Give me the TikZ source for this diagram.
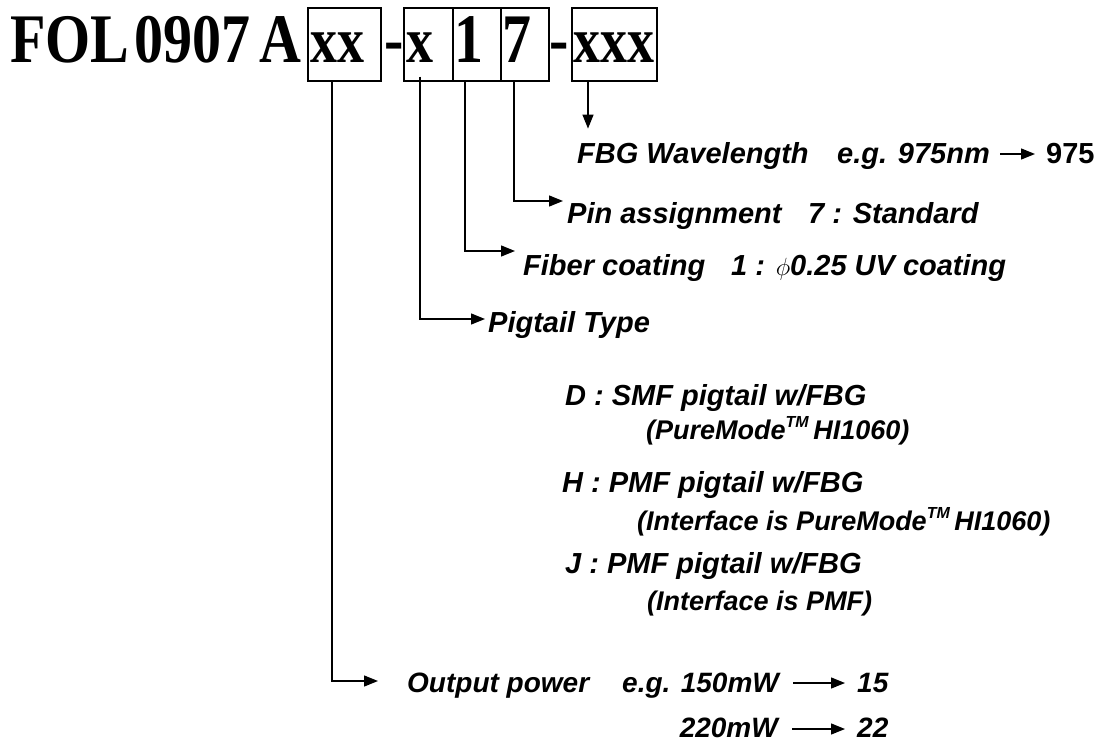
\documentclass[tikz,border=0pt]{standalone}
\usepackage{fontspec}
\setmainfont{Liberation Sans}
\newfontfamily\codefont{Liberation Serif}
\usetikzlibrary{arrows.meta,positioning}

\newcommand{\tallcode}[1]{\scalebox{1}[1.2]{#1}}
\newcommand{\tmark}{\raisebox{12pt}{\fontsize{16}{16}\selectfont TM}}

\tikzset{
  code/.style={font=\codefont\bfseries\fontsize{58}{62}\selectfont, anchor=base west, inner sep=0pt},
  boxcode/.style={code, font=\codefont\bfseries\fontsize{54}{58}\selectfont},
  codebox/.style={draw, line width=1.2pt, minimum width=#1, minimum height=73pt, inner sep=0pt},
  lbl/.style={font=\bfseries\itshape\fontsize{29}{33}\selectfont, anchor=base west, inner sep=0pt},
  sub/.style={lbl, font=\bfseries\itshape\fontsize{27}{31}\selectfont},
  outl/.style={lbl, font=\bfseries\itshape\fontsize{28}{32}\selectfont},
  link/.style={line width=1.3pt, -{Triangle[length=14pt,width=11pt]}}
}

\begin{document}
\begin{tikzpicture}[x=1pt,y=-1pt]
\useasboundingbox (0,0) rectangle (1115,743);
% part number
\node[code] (fol) at (10,63) {\tallcode{FOL}};
\node[code] (num) at (134,63) {\tallcode{0907}};
\node[code] (ser) at (259,63) {\tallcode{A}};
\node[codebox=73pt] (bxx) at (344.5,44.5) {};
\node[codebox=49pt] (bx) at (428.5,44.5) {};
\node[codebox=48pt] (bone) at (477,44.5) {};
\node[codebox=48pt] (bseven) at (525,44.5) {};
\node[codebox=85pt] (bxxx) at (614.5,44.5) {};
\node[boxcode] (txx) at (310,63) {\tallcode{xx}};
\node[code] (dasha) at (384,63) {\tallcode{-}};
\node[boxcode] (tx) at (406,63) {\tallcode{x}};
\node[code] (tone) at (454,63) {\tallcode{1}};
\node[code] (tseven) at (502,63) {\tallcode{7}};
\node[code] (dashb) at (549,63) {\tallcode{-}};
\node[boxcode] (txxx) at (573,63) {\tallcode{xxx}};

% labels
\node[lbl] (fbg) at (577,164) {FBG Wavelength};
\node[lbl] (ex975) at (837,164) {e.g. 975nm};
\node[lbl, font=\bfseries\fontsize{29}{33}\selectfont] (v975) at (1046,164) {975};
\node[lbl] (pin) at (567,223) {Pin assignment};
\node[lbl] (pinstd) at (808,223) {7 : Standard};
\node[lbl] (fib) at (523,275) {Fiber coating};
\node[lbl] (fibuv) at (731,275) {1 : $\phi$0.25 UV coating};
\node[lbl] (pig) at (488,332) {Pigtail Type};
\node[lbl] (pigd) at (565,405) {D : SMF pigtail w/FBG};
\node[sub] (pigdsub) at (646,439) {(PureMode\tmark\,HI1060)};
\node[lbl] (pigh) at (562,492) {H : PMF pigtail w/FBG};
\node[sub] (pighsub) at (637,530) {(Interface is PureMode\tmark\,HI1060)};
\node[lbl] (pigj) at (565,573) {J : PMF pigtail w/FBG};
\node[sub] (pigjsub) at (647,610) {(Interface is PMF)};
\node[outl] (outp) at (407,692) {Output power};
\node[outl] (ex150) at (622,692) {e.g. 150mW};
\node[outl, anchor=base east] (ex220) at (778,737) {220mW};
\node[outl] (v15) at (857,692) {15};
\node[outl] (v22) at (857,737) {22};

% connectors
\coordinate (tippin) at (563,201);
\coordinate (tipfib) at (515,251);
\coordinate (tippig) at (485,319);
\coordinate (tipout) at (378,681);
\draw[link] ([xshift=-26.5pt]bxxx.south) -- ++(0,47);
\draw[link] ([xshift=-11pt]bseven.south) |- (tippin);
\draw[link] ([xshift=-12pt]bone.south) |- (tipfib);
\draw[link] ([xshift=-8.5pt,yshift=5pt]bx.south) |- (tippig);
\draw[link] ([xshift=-12.5pt]bxx.south) |- (tipout);
\draw[link] ([xshift=10pt,yshift=10pt]ex975.base east) -- ([xshift=-11pt,yshift=10pt]v975.base west);
\draw[link] ([xshift=14pt,yshift=9pt]ex150.base east) -- ([xshift=-12pt,yshift=9pt]v15.base west);
\draw[link] ([xshift=14pt,yshift=8pt]ex220.base east) -- ([xshift=-12pt,yshift=8pt]v22.base west);
\end{tikzpicture}
\end{document}
